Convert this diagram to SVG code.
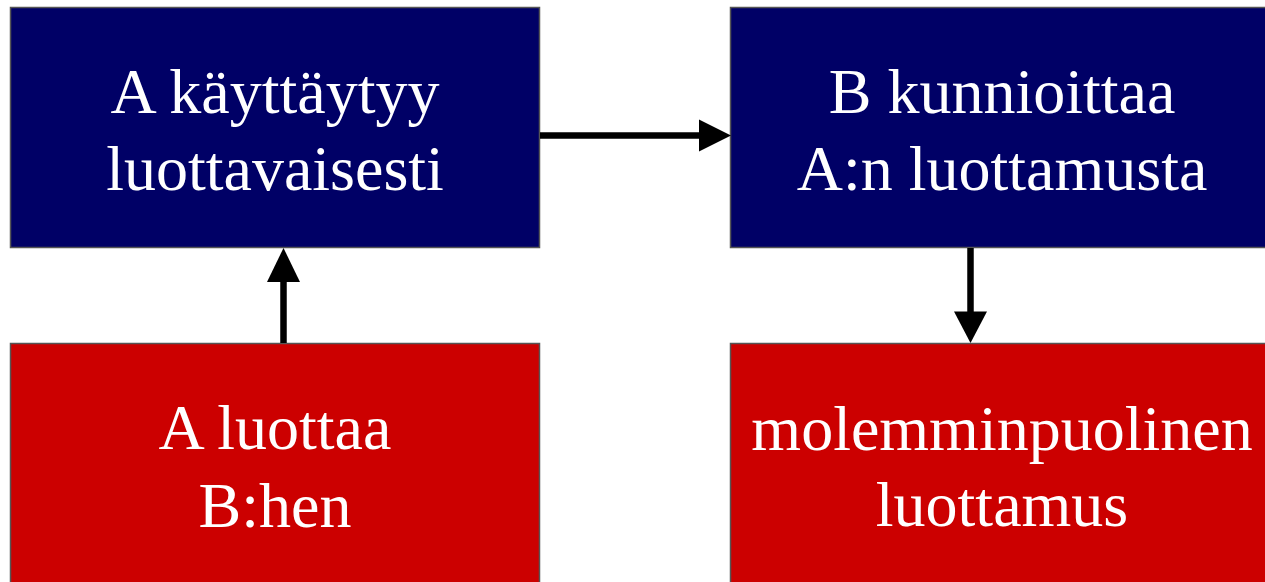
<svg xmlns="http://www.w3.org/2000/svg" width="1265" height="582" viewBox="0 0 1265 582">
<style>
.blue{fill:#000066;stroke:#555;stroke-width:1.5}
.red{fill:#CC0000;stroke:#555;stroke-width:1.5}
.t{font-family:"Liberation Serif","Times New Roman",serif;font-size:64px;fill:#fff;text-anchor:middle}
.c{stroke:#000;stroke-width:6.5;fill:none}
.h{fill:#000}
</style>
<rect width="1265" height="582" fill="#fff"/>
<g id="n1"><rect class="blue" x="10.5" y="7.5" width="529" height="240"/><text class="t" x="275" y="113">A käyttäytyy</text><text class="t" x="275" y="190">luottavaisesti</text></g>
<g id="n2"><rect class="blue" x="730.5" y="7.5" width="545" height="240"/><text class="t" x="1002" y="113">B kunnioittaa</text><text class="t" x="1002" y="190">A:n luottamusta</text></g>
<g id="n3"><rect class="red" x="10.5" y="343.5" width="529" height="250"/><text class="t" x="275" y="449">A luottaa</text><text class="t" x="275" y="527">B:hen</text></g>
<g id="n4"><rect class="red" x="730.5" y="343.5" width="545" height="250"/><text class="t" x="1002" y="450">molemminpuolinen</text><text class="t" x="1002" y="526">luottamus</text></g>
<g id="connectors">
<line class="c" x1="540" y1="135.5" x2="700" y2="135.5"/><polygon class="h" points="699,119.5 731,135.5 699,151.5"/>
<line class="c" x1="283.5" y1="343" x2="283.5" y2="280"/><polygon class="h" points="267,282 283.5,248 300,282"/>
<line class="c" x1="970.5" y1="248" x2="970.5" y2="313"/><polygon class="h" points="954,311.5 970.5,343 987,311.5"/>
</g>
</svg>
